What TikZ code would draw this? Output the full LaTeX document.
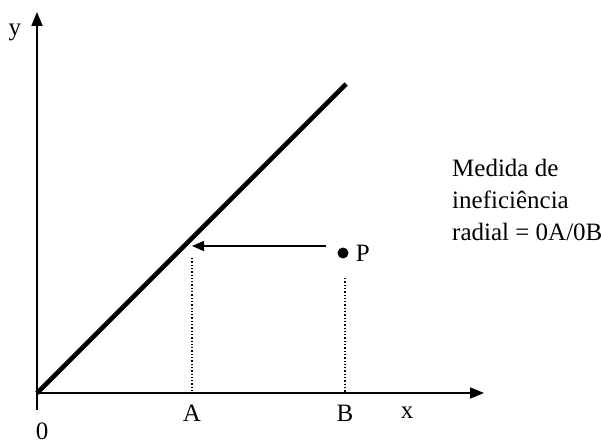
\documentclass[tikz,border=0pt]{standalone}
\usepackage{fontspec}
\setmainfont{Liberation Serif}
\usetikzlibrary{arrows.meta,positioning}
\tikzset{
  axis/.style={-{Triangle[length=14pt,width=11pt]}, line width=1.8pt, draw=black},
  ray/.style={line width=4.6pt},
  moveback/.style={-{Triangle[length=12pt,width=10pt]}, line width=1.4pt},
  guide/.style={dotted, line width=1.3pt},
  tag/.style={font=\fontsize{25}{32}\selectfont, inner sep=0pt},
  dot/.style={circle, fill=black, minimum size=11pt, inner sep=0pt}
}

\begin{document}
\begin{tikzpicture}[x=1pt,y=1pt]
    \useasboundingbox (-37,-54) rectangle (564,393);
    \coordinate (o) at (0,0);
    \coordinate (ybot) at (0,-17);
    \coordinate (ytip) at (0,381);
    \coordinate (xtip) at (447,0);
    \coordinate (rayend) at (309,309);
    \coordinate (hit) at (155,147);
    \coordinate (start) at (289,147);
    \coordinate (atop) at (155,135);
    \coordinate (btop) at (308,115);
    \coordinate (afoot) at (155,0);
    \coordinate (bfoot) at (308,0);
    \node[dot] (p) at (306,140) {};
    \node[tag,right=7pt of p] (plabel) {P};
    \node[tag] (ylabel) at (-22,361) {y};
    \node[tag] (xlabel) at (370,-20) {x};
    \node[tag] (alabel) at (155,-20) {A};
    \node[tag] (blabel) at (308,-20) {B};
    \node[tag] (olabel) at (5,-38) {0};
    \node[tag,align=left,anchor=north west] (note) at (415,234)
      {Medida de\\ineficiência\\radial = 0A/0B};
    \draw[axis] (ybot)--(ytip);
    \draw[axis] (o)--(xtip);
    \draw[ray] (o)--(rayend);
    \draw[moveback] (start)--(hit);
    \draw[guide] (atop)--(afoot);
    \draw[guide] (btop)--(bfoot);
  \end{tikzpicture}
\end{document}
